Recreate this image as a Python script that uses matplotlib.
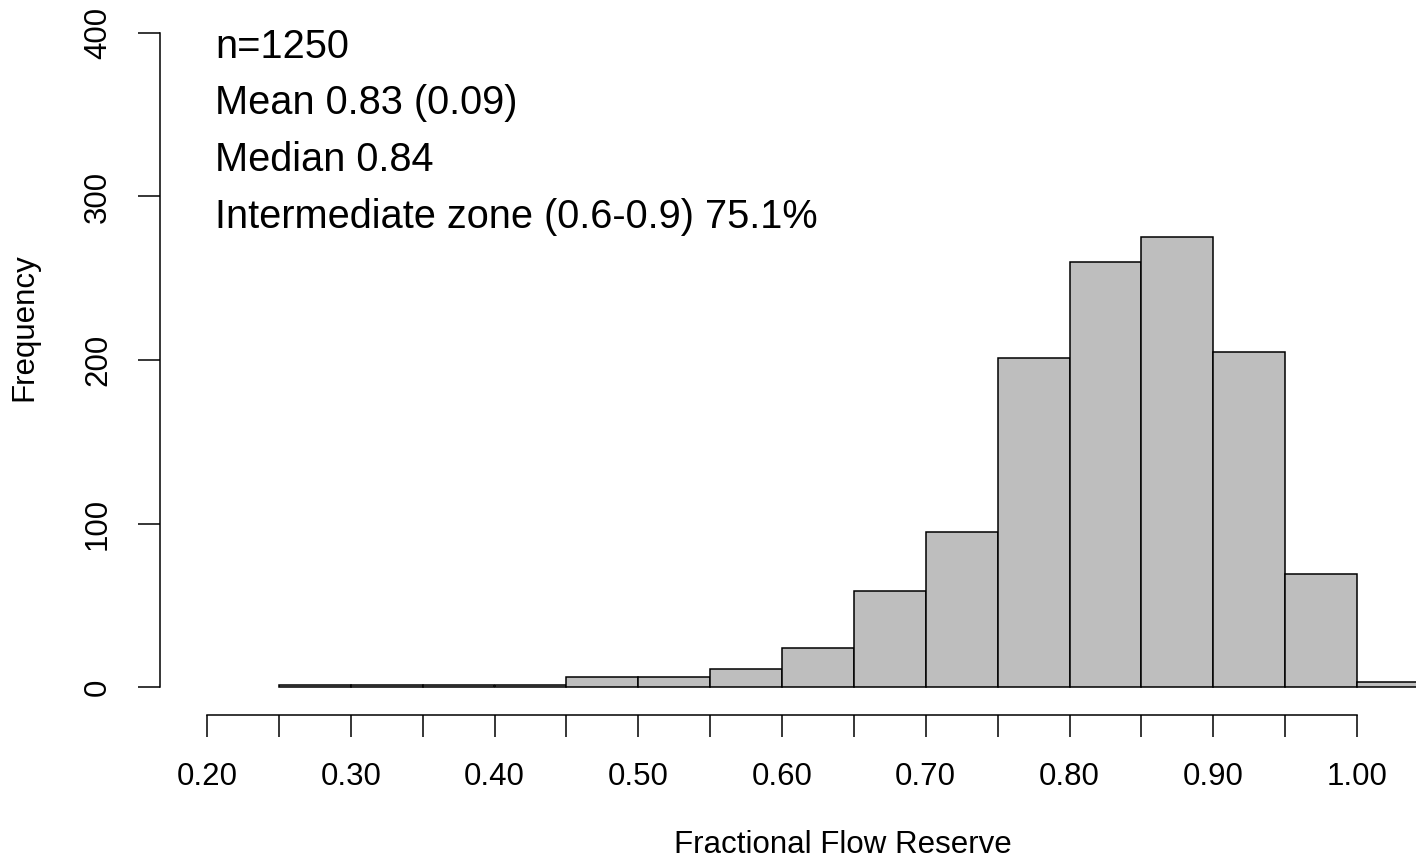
import matplotlib
matplotlib.use("Agg")
import matplotlib.pyplot as plt
from matplotlib import font_manager

# histogram of FFR values, bins of 0.05
bin_left = [0.25, 0.30, 0.35, 0.40, 0.45, 0.50, 0.55, 0.60, 0.65,
            0.70, 0.75, 0.80, 0.85, 0.90, 0.95, 1.00]
counts = [1, 1, 1, 1, 6, 6, 11, 24, 59, 95, 201, 260, 275, 205, 69, 3]
bin_width = 0.05

x_ticks = [0.20, 0.25, 0.30, 0.35, 0.40, 0.45, 0.50, 0.55, 0.60,
           0.65, 0.70, 0.75, 0.80, 0.85, 0.90, 0.95, 1.00]
x_labels = ["0.20", "", "0.30", "", "0.40", "", "0.50", "", "0.60",
            "", "0.70", "", "0.80", "", "0.90", "", "1.00"]
y_ticks = [0, 100, 200, 300, 400]

stats_lines = ["n=1250", "Mean 0.83 (0.09)", "Median 0.84",
               "Intermediate zone (0.6-0.9) 75.1%"]

names = {f.name for f in font_manager.fontManager.ttflist}
base_font = "Liberation Sans"
if "Liberation Sans Narrow" in names:
    narrow_font, narrow_size = "Liberation Sans Narrow", 34
else:
    narrow_font, narrow_size = base_font, 28.6

plt.rcParams["font.family"] = base_font

W, H = 1416, 858
fig = plt.figure(figsize=(W / 100, H / 100), dpi=100)
ax = fig.add_axes([160 / W, 1 - 715 / H, (W - 160) / W, 715 / H])

ax.bar(bin_left, counts, width=bin_width, align="edge",
       color="#bebebe", edgecolor="black", linewidth=1.1)

ax.set_xlim(0.2 - 47 / 1437.5, 1.0 + 59 / 1437.5)
ax.set_ylim(-(715 - 687) / 1.635, 400 + 33 / 1.635)

for s in ["top", "right"]:
    ax.spines[s].set_visible(False)
ax.spines["bottom"].set_bounds(0.2, 1.0)
ax.spines["left"].set_bounds(0, 400)
for s in ["bottom", "left"]:
    ax.spines[s].set_linewidth(1.1)

ax.set_xticks(x_ticks)
ax.set_xticklabels(x_labels)
ax.set_yticks(y_ticks)
ax.set_yticklabels([str(v) for v in y_ticks], rotation=90, va="center")
ax.tick_params(axis="x", length=15.8, width=1.1, pad=18, labelsize=22.5)
ax.tick_params(axis="y", length=15.8, width=1.1, pad=18, labelsize=22.5)

fig.text(843 / W, 1 - 845 / H, "Fractional Flow Reserve", ha="center",
         va="center", fontsize=22.5)
fig.text(24 / W, 1 - 327 / H, "Frequency", ha="center", va="center",
         rotation=90, fontsize=22.5)

for i, line in enumerate(stats_lines):
    y_px = 58 + i * 56.5
    fig.text(215 / W, 1 - y_px / H, line, ha="left", va="baseline",
             fontsize=narrow_size, family=narrow_font)

fig.savefig("out.png", dpi=100)
